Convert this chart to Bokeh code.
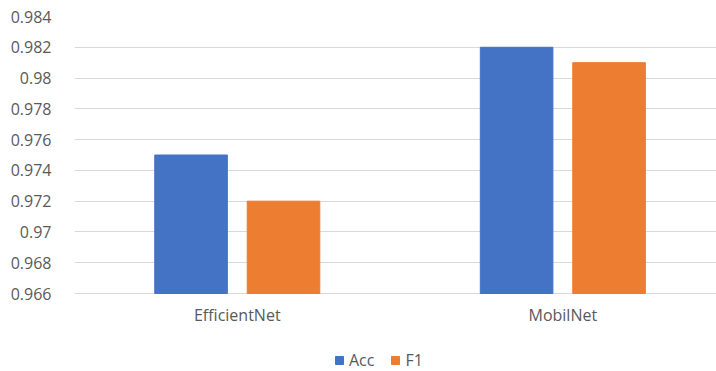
from bokeh.plotting import figure
from bokeh.models import (ColumnDataSource, Range1d, FixedTicker, Legend,
                          LegendItem, LabelSet)
from bokeh.core.properties import value
from bokeh.embed import file_html
from bokeh.resources import INLINE

# Model scores
models = ["EfficientNet", "MobilNet"]
acc = [0.975, 0.982]
f1 = [0.972, 0.981]
y_ticks = [0.966, 0.968, 0.97, 0.972, 0.974, 0.976, 0.978, 0.98, 0.982, 0.984]

FONT = "Open Sans"
TXT = "#595959"
BLUE = "#4472C4"
ORANGE = "#ED7D31"

base = y_ticks[0]
step = y_ticks[1] - y_ticks[0]
centers = [i + 0.5 for i in range(len(models))]
src = ColumnDataSource(dict(
    x_acc=[c - 0.142 for c in centers],
    x_f1=[c + 0.142 for c in centers],
    acc=acc, f1=f1,
))
cat_src = ColumnDataSource(dict(x=centers, y=[base] * len(models), text=models))

# the frame runs down to the bottom edge so the legend can sit beneath
# the category labels; the value axis starts at the lowest tick
p = figure(width=716, height=371, output_backend="svg", toolbar_location=None,
           x_range=Range1d(0, 1.972),
           y_range=Range1d(base - 2.534 * step, y_ticks[-1]),
           x_axis_location=None,
           min_border_left=74, min_border_right=0, min_border_top=16,
           min_border_bottom=0)
p.outline_line_color = None

r_acc = p.vbar(x="x_acc", top="acc", bottom=base, width=0.223, source=src,
               fill_color=BLUE, line_color=BLUE)
r_f1 = p.vbar(x="x_f1", top="f1", bottom=base, width=0.223, source=src,
              fill_color=ORANGE, line_color=ORANGE)

# y axis
p.yaxis.ticker = FixedTicker(ticks=y_ticks)
p.yaxis.major_label_overrides = {t: f"{t:g}" for t in y_ticks}
p.yaxis.axis_line_color = None
p.yaxis.major_tick_line_color = None
p.yaxis.minor_tick_line_color = None
p.yaxis.major_label_standoff = 17
p.yaxis.major_label_text_font = FONT
p.yaxis.major_label_text_font_size = "16px"
p.yaxis.major_label_text_color = TXT

p.xgrid.grid_line_color = None
p.ygrid.ticker = FixedTicker(ticks=y_ticks)
p.ygrid.grid_line_color = "#d9d9d9"
p.ygrid.grid_line_width = 1

# category labels under the base line
cats = LabelSet(x="x", y="y", text="text", source=cat_src, y_offset=-21,
                text_align="center", text_baseline="middle",
                text_font=value(FONT), text_font_size=value("16px"),
                text_color=value(TXT))
p.add_layout(cats)

legend = Legend(items=[LegendItem(label="Acc", renderers=[r_acc]),
                       LegendItem(label="F1", renderers=[r_f1])],
                orientation="horizontal", location=(260, 0),
                glyph_width=10, glyph_height=10, label_standoff=5, spacing=16,
                padding=8, margin=0, border_line_color=None,
                background_fill_alpha=0,
                label_text_font=FONT, label_text_font_size="16px",
                label_text_color=TXT)
p.add_layout(legend, "center")

open("out.html", "w").write(file_html(p, INLINE))
